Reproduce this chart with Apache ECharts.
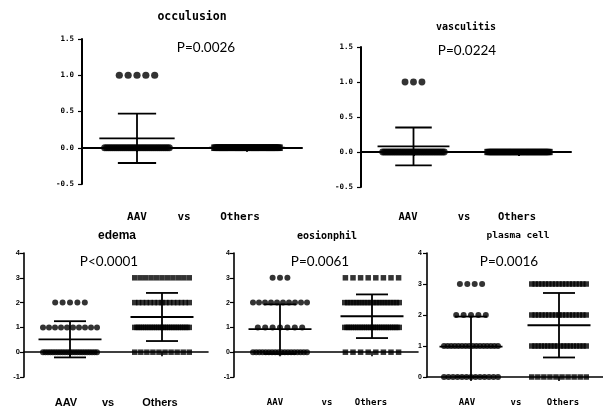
<!DOCTYPE html>
<html><head><meta charset="utf-8">
<script src="https://cdn.jsdelivr.net/npm/echarts@6/dist/echarts.min.js"></script>
<style>html,body{margin:0;padding:0;background:#fff}#c{width:603px;height:408px}</style>
</head><body><div id="c"></div>
<script>
// ---------- DATA ----------
const groups = ['AAV', 'Others'];
const panelTitles = ['occulusion', 'vasculitis', 'edema', 'eosionphil', 'plasma cell'];
const pValues = ['P=0.0026', 'P=0.0224', 'P<0.0001', 'P=0.0061', 'P=0.0016'];
const vsLabel = 'vs';

// score levels
const levelsBinary = [0, 1];
const levelsScore = [0, 1, 2, 3];

// number of patients at each level (AAV / Others)
const occlusionAAV = [33, 5];
const occlusionOthers = [62, 0];
const vasculitisAAV = [35, 3];
const vasculitisOthers = [62, 0];
const edemaAAV = [23, 10, 5, 0];
const edemaOthers = [10, 26, 15, 11];
const eosinophilAAV = [18, 7, 10, 3];
const eosinophilOthers = [8, 26, 20, 8];
const plasmaAAV = [13, 16, 5, 4];
const plasmaOthers = [10, 18, 17, 17];

// mean and SD per group (AAV, Others)
const occlusionMean = [0.13, 0.0];
const occlusionSD = [0.34, 0.0];
const vasculitisMean = [0.08, 0.0];
const vasculitisSD = [0.27, 0.0];
const edemaMean = [0.52, 1.42];
const edemaSD = [0.73, 0.97];
const eosinophilMean = [0.93, 1.45];
const eosinophilSD = [1.0, 0.88];
const plasmaMean = [0.98, 1.67];
const plasmaSD = [0.97, 1.04];

// y tick labels
const yTicksFrac = [-0.5, 0.0, 0.5, 1.0, 1.5];
const yTicksScore = [-1, 0, 1, 2, 3, 4];
const yTicksPlasma = [0, 1, 2, 3, 4];

// ---------- LAYOUT ----------
const MONO = '"DejaVu Sans Mono"';
const panels = [
  { grid: {left: 82, top: 39, width: 220, height: 145}, levels: levelsBinary, aav: occlusionAAV, oth: occlusionOthers,
    mean: occlusionMean, sd: occlusionSD, ticks: yTicksFrac, dec: 1, lw: 2, tickFont: MONO, tickSize: 7.5, tickMargin: 8,
    title: {x: 192, y: 17, size: 11.5, family: MONO}, p: {x: 206, y: 48},
    lab: {y: 217, xs: [137, 184, 240], size: 11, family: MONO} },
  { grid: {left: 361, top: 47, width: 210, height: 140}, levels: levelsBinary, aav: vasculitisAAV, oth: vasculitisOthers,
    mean: vasculitisMean, sd: vasculitisSD, ticks: yTicksFrac, dec: 1, lw: 2, tickFont: MONO, tickSize: 7.5, tickMargin: 8,
    title: {x: 466, y: 27, size: 10, family: MONO}, p: {x: 467, y: 51},
    lab: {y: 217, xs: [408, 464, 517], size: 10.5, family: MONO} },
  { grid: {left: 24, top: 253, width: 184, height: 124}, levels: levelsScore, aav: edemaAAV, oth: edemaOthers,
    mean: edemaMean, sd: edemaSD, ticks: yTicksScore, dec: 0, lw: 1.6, tickFont: '"Liberation Sans"', tickSize: 7.5, tickMargin: 4,
    title: {x: 117, y: 236, size: 12, family: '"Liberation Sans"'}, p: {x: 109, y: 262},
    lab: {y: 403, xs: [66, 108, 160], size: 11, family: '"Liberation Sans"'} },
  { grid: {left: 234, top: 253, width: 184, height: 124}, levels: levelsScore, aav: eosinophilAAV, oth: eosinophilOthers,
    mean: eosinophilMean, sd: eosinophilSD, ticks: yTicksScore, dec: 0, lw: 1.6, tickFont: '"Liberation Sans"', tickSize: 7, tickMargin: 4,
    title: {x: 327, y: 236, size: 10, family: MONO}, p: {x: 320, y: 262},
    lab: {y: 403, xs: [275, 327, 371], size: 9, family: MONO} },
  { grid: {left: 427, top: 253, width: 184, height: 124}, levels: levelsScore, aav: plasmaAAV, oth: plasmaOthers,
    mean: plasmaMean, sd: plasmaSD, ticks: yTicksPlasma, dec: 0, lw: 1.6, tickFont: '"Liberation Sans"', tickSize: 7, tickMargin: 5,
    title: {x: 518, y: 236, size: 9.5, family: MONO}, p: {x: 509, y: 262},
    lab: {y: 403, xs: [467, 516, 563], size: 9, family: MONO} }
];

// spread of equal values horizontally (px, scaled by panel width)
function spread(cat, levels, counts, k, size, s0, maxW) {
  const out = [];
  levels.forEach((lv, j) => {
    const n = counts[j] || 0;
    const step = n > 1 ? Math.min(s0 * k, (maxW * k - size) / (n - 1)) : 0;
    for (let i = 0; i < n; i++) {
      out.push({ value: [cat, lv], symbolOffset: [(i - (n - 1) / 2) * step, 0] });
    }
  });
  return out;
}

const grids = [], xAxes = [], yAxes = [], series = [], graphics = [];
panels.forEach((P, i) => {
  const k = P.grid.width / 184;
  grids.push(Object.assign({containLabel: false}, P.grid));
  xAxes.push({
    type: 'category', gridIndex: i, data: groups, boundaryGap: true,
    axisLine: {show: true, lineStyle: {color: '#000', width: P.lw}},
    axisTick: {show: true, alignWithLabel: true, length: 4, lineStyle: {color: '#000', width: P.lw}},
    axisLabel: {show: false}, splitLine: {show: false}
  });
  const t = P.ticks;
  yAxes.push({
    type: 'value', gridIndex: i, min: t[0], max: t[t.length - 1], interval: t[1] - t[0],
    axisLine: {show: true, onZero: false, lineStyle: {color: '#000', width: P.lw}},
    axisTick: {show: true, length: 4, lineStyle: {color: '#000', width: 1.2}},
    splitLine: {show: false},
    axisLabel: {color: '#000', fontWeight: 'bold', fontFamily: P.tickFont, fontSize: P.tickSize, margin: P.tickMargin,
      formatter: v => Number(v).toFixed(P.dec)}
  });
  const dotSize = 6 * k;
  series.push({
    type: 'scatter', xAxisIndex: i, yAxisIndex: i, symbol: 'circle', symbolSize: dotSize,
    itemStyle: {color: '#000'}, silent: true, z: 3,
    data: spread(groups[0], P.levels, P.aav, k, dotSize, 7.4, 60)
  });
  const sqSize = 5.5 * k;
  series.push({
    type: 'scatter', xAxisIndex: i, yAxisIndex: i, symbol: 'rect', symbolSize: sqSize,
    itemStyle: {color: '#000'}, silent: true, z: 3,
    data: spread(groups[1], P.levels, P.oth, k, sqSize, 7.6, 60)
  });
  series.push({
    type: 'custom', xAxisIndex: i, yAxisIndex: i, z: 5, silent: true,
    encode: {x: 0, y: 1},
    data: groups.map((g, j) => [j, P.mean[j], P.sd[j]]),
    renderItem: (params, api) => {
      const x = api.value(0), m = api.value(1), s = api.value(2);
      const c = api.coord([x, m]);
      const mw = 63 * k, cw = 32 * k;
      const st = {stroke: '#000', lineWidth: 1.8};
      const ch = [{type: 'line', shape: {x1: c[0] - mw / 2, y1: c[1], x2: c[0] + mw / 2, y2: c[1]}, style: st}];
      if (s > 0) {
        const tp = api.coord([x, m + s]), bt = api.coord([x, m - s]);
        ch.push({type: 'line', shape: {x1: c[0], y1: tp[1], x2: c[0], y2: bt[1]}, style: st});
        ch.push({type: 'line', shape: {x1: c[0] - cw / 2, y1: tp[1], x2: c[0] + cw / 2, y2: tp[1]}, style: st});
        ch.push({type: 'line', shape: {x1: c[0] - cw / 2, y1: bt[1], x2: c[0] + cw / 2, y2: bt[1]}, style: st});
      }
      return {type: 'group', children: ch};
    }
  });
  // texts
  const txt = (text, x, y, size, family, weight) => graphics.push({
    type: 'text', silent: true,
    style: {text, x, y, fill: '#000', fontSize: size, fontFamily: family, fontWeight: weight,
      textAlign: 'center', textVerticalAlign: 'middle'}
  });
  txt(panelTitles[i], P.title.x, P.title.y, P.title.size, P.title.family, 'bold');
  txt(pValues[i], P.p.x, P.p.y, 13.5, 'Lato', 'normal');
  const labs = [groups[0], vsLabel, groups[1]];
  labs.forEach((l, j) => txt(l, P.lab.xs[j], P.lab.y, P.lab.size, P.lab.family, 'bold'));
});

const chart = echarts.init(document.getElementById('c'), null, {renderer: 'canvas'});
chart.setOption({
  animation: false,
  backgroundColor: '#fff',
  grid: grids, xAxis: xAxes, yAxis: yAxes, series: series, graphic: graphics
});
</script>
</body></html>
